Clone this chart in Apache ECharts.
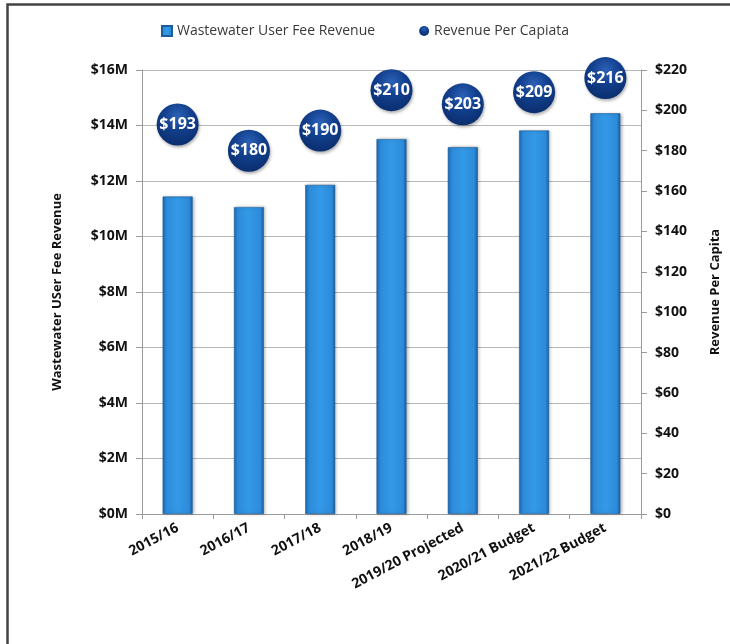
<!DOCTYPE html>
<html>
<head>
<meta charset="utf-8">
<script src="https://cdn.jsdelivr.net/npm/echarts@6/dist/echarts.min.js"></script>
<style>
  html, body { margin: 0; padding: 0; background: #ffffff; }
  #chart { width: 730px; height: 644px; }
</style>
</head>
<body>
<div id="chart"></div>
<script>
// Fiscal years shown along the bottom axis
const categories = ['2015/16', '2016/17', '2017/18', '2018/19', '2019/20 Projected', '2020/21 Budget', '2021/22 Budget'];
// Wastewater user fee revenue, in dollars
const feeRevenue = [11.44e6, 11.06e6, 11.86e6, 13.51e6, 13.22e6, 13.82e6, 14.44e6];
// Revenue per capita, in dollars
const perCapita = [193, 180, 190, 210, 203, 209, 216];

const FONT = '"Open Sans", "Noto Sans", sans-serif';

const barFill = new echarts.graphic.LinearGradient(0, 0, 1, 0, [
  { offset: 0, color: '#1c69b0' },
  { offset: 0.12, color: '#2d8bda' },
  { offset: 0.5, color: '#3399e6' },
  { offset: 0.88, color: '#2d8bda' },
  { offset: 1, color: '#195d9c' }
]);

const bubbleFill = new echarts.graphic.RadialGradient(0.5, 0.3, 0.75, [
  { offset: 0, color: '#2c62b8' },
  { offset: 0.45, color: '#123f8c' },
  { offset: 1, color: '#0a2c6a' }
]);

const chart = echarts.init(document.getElementById('chart'), null, { renderer: 'canvas' });

chart.setOption({
  backgroundColor: '#ffffff',
  animation: false,
  textStyle: { fontFamily: FONT },
  legend: {
    top: 19,
    left: 'center',
    itemWidth: 10,
    itemHeight: 10,
    itemGap: 44,
    textStyle: { fontFamily: FONT, fontSize: 14, color: '#3a3a3a' },
    data: [
      { name: 'Wastewater User Fee Revenue', icon: 'rect' },
      { name: 'Revenue Per Capiata', icon: 'circle' }
    ]
  },
  grid: { left: 142, right: 83, top: 70, bottom: 130 },
  xAxis: {
    type: 'category',
    data: categories,
    axisLine: { lineStyle: { color: '#9a9a9a', width: 1 } },
    axisTick: { show: true, length: 5, alignWithLabel: false, lineStyle: { color: '#9a9a9a' } },
    axisLabel: {
      interval: 0,
      rotate: 28,
      margin: 13,
      fontFamily: FONT,
      fontSize: 14,
      fontWeight: 'bold',
      color: '#111'
    }
  },
  yAxis: [
    {
      type: 'value',
      min: 0,
      max: 16e6,
      interval: 2e6,
      name: 'Wastewater USer Fee Revenue',
      nameLocation: 'middle',
      nameGap: 78,
      nameTextStyle: { fontFamily: FONT, fontSize: 13, fontWeight: 'bold', color: '#111' },
      axisLine: { show: true, lineStyle: { color: '#9a9a9a' } },
      axisTick: { show: true, length: 6, lineStyle: { color: '#9a9a9a' } },
      axisLabel: {
        margin: 14,
        fontFamily: FONT,
        fontSize: 14,
        fontWeight: 'bold',
        color: '#111',
        formatter: v => '$' + (v / 1e6) + 'M'
      },
      splitLine: { show: true, lineStyle: { color: '#b8b8b8', width: 1 } }
    },
    {
      type: 'value',
      min: 0,
      max: 220,
      interval: 20,
      name: 'Revenue Per Capita',
      nameLocation: 'middle',
      nameGap: 68,
      nameTextStyle: { fontFamily: FONT, fontSize: 13, fontWeight: 'bold', color: '#111' },
      axisLine: { show: true, lineStyle: { color: '#9a9a9a' } },
      axisTick: { show: true, length: 6, lineStyle: { color: '#9a9a9a' } },
      axisLabel: {
        margin: 14,
        fontFamily: FONT,
        fontSize: 14,
        fontWeight: 'bold',
        color: '#111',
        formatter: v => '$' + v
      },
      splitLine: { show: false }
    }
  ],
  series: [
    {
      name: 'Wastewater User Fee Revenue',
      type: 'bar',
      yAxisIndex: 0,
      data: feeRevenue,
      barWidth: 30,
      itemStyle: {
        color: barFill,
        borderColor: '#1b5e9c',
        borderWidth: 0.6,
        shadowColor: 'rgba(0,0,0,0.25)',
        shadowBlur: 3,
        shadowOffsetX: 1.5,
        shadowOffsetY: 0
      }
    },
    {
      name: 'Revenue Per Capiata',
      type: 'scatter',
      yAxisIndex: 1,
      data: perCapita,
      symbol: 'circle',
      symbolSize: 42,
      z: 5,
      itemStyle: {
        color: bubbleFill,
        opacity: 1,
        shadowColor: 'rgba(0,0,0,0.3)',
        shadowBlur: 3,
        shadowOffsetX: 1,
        shadowOffsetY: 2
      },
      label: {
        show: true,
        position: 'inside',
        fontFamily: FONT,
        fontSize: 16,
        fontWeight: 'bold',
        color: '#ffffff',
        formatter: p => '$' + p.value
      }
    }
  ],
  graphic: [
    {
      type: 'polyline',
      shape: { points: [[7.5, 644], [7.5, 4.5], [730, 4.5]] },
      style: { stroke: '#444444', lineWidth: 2.5, fill: null },
      silent: true
    }
  ]
});
</script>
</body>
</html>
